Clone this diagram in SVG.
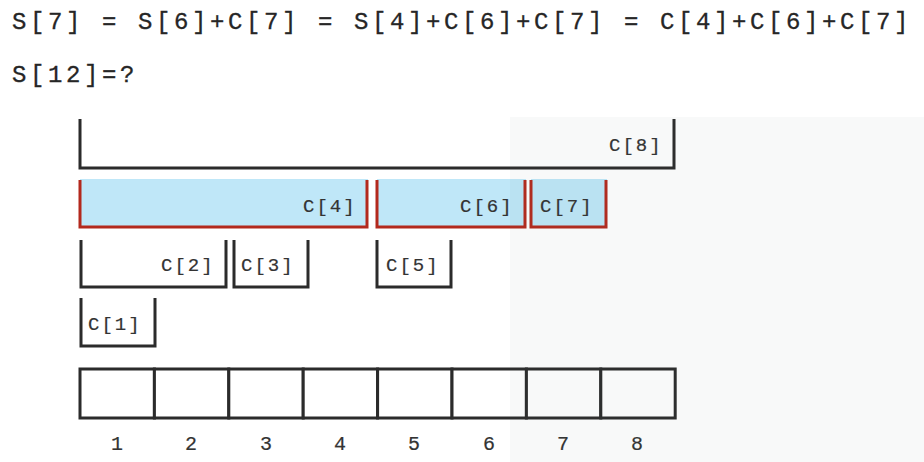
<svg xmlns="http://www.w3.org/2000/svg" width="924" height="462" viewBox="0 0 924 462">
<style>
.eq{font-family:"Liberation Mono","DejaVu Sans Mono",monospace;font-size:24px;fill:#262626;letter-spacing:3.6px;stroke:#262626;stroke-width:0.3}
.lbl{font-family:"Liberation Mono","DejaVu Sans Mono",monospace;font-size:19px;fill:#333;letter-spacing:2px;stroke:#333;stroke-width:0.2}
.num{font-family:"Liberation Mono","DejaVu Sans Mono",monospace;font-size:20px;fill:#333;text-anchor:middle;stroke:#333;stroke-width:0.2}
.bk{fill:none;stroke:#2b2b2b;stroke-width:3}
.rd{fill:#bfe7f8;stroke:none}
.rl{fill:none;stroke:#b3291d;stroke-width:3}
.cell{fill:#fff;stroke:#2b2b2b;stroke-width:3}
</style>
<rect width="924" height="462" fill="#fff"/>
<text class="eq" x="12" y="29">S[7] = S[6]+C[7] = S[4]+C[6]+C[7] = C[4]+C[6]+C[7]</text>
<text class="eq" x="12" y="82">S[12]=?</text>

<g id="C8"><path class="bk" d="M80,119 V168 H674 V119"/><text class="lbl" x="609" y="151">C[8]</text></g>
<g id="C4"><rect class="rd" x="80" y="179" width="288" height="48"/><path class="rl" d="M80,180 V227 H367 V180"/><text class="lbl" x="303" y="212">C[4]</text></g>
<g id="C6"><rect class="rd" x="377" y="179" width="149" height="48"/><path class="rl" d="M377,180 V227 H525 V180"/><text class="lbl" x="460" y="212">C[6]</text></g>
<g id="C7"><rect class="rd" x="531" y="179" width="76" height="48"/><path class="rl" d="M531,180 V227 H606 V180"/><text class="lbl" x="540" y="212">C[7]</text></g>
<g id="C2"><path class="bk" d="M81,240 V287 H226 V240"/><text class="lbl" x="161" y="271">C[2]</text></g>
<g id="C3"><path class="bk" d="M234,240 V287 H308 V240"/><text class="lbl" x="241" y="271">C[3]</text></g>
<g id="C5"><path class="bk" d="M377,240 V287 H451 V240"/><text class="lbl" x="386" y="271">C[5]</text></g>
<g id="C1"><path class="bk" d="M81,298 V346 H155 V298"/><text class="lbl" x="88" y="330">C[1]</text></g>

<g id="array">
<rect class="cell" x="80" y="369" width="74.4" height="49"/>
<rect class="cell" x="154.4" y="369" width="74.4" height="49"/>
<rect class="cell" x="228.8" y="369" width="74.4" height="49"/>
<rect class="cell" x="303.2" y="369" width="74.4" height="49"/>
<rect class="cell" x="377.6" y="369" width="74.4" height="49"/>
<rect class="cell" x="452" y="369" width="74.4" height="49"/>
<rect class="cell" x="526.4" y="369" width="74.4" height="49"/>
<rect class="cell" x="600.8" y="369" width="74.4" height="49"/>
</g>
<g id="indices">
<text class="num" x="117" y="450">1</text>
<text class="num" x="191" y="450">2</text>
<text class="num" x="266" y="450">3</text>
<text class="num" x="340" y="450">4</text>
<text class="num" x="414" y="450">5</text>
<text class="num" x="489" y="450">6</text>
<text class="num" x="563" y="450">7</text>
<text class="num" x="637" y="450">8</text>
</g>
<rect x="510" y="117" width="414" height="345" fill="#5a6a6a" opacity="0.045"/>
</svg>
